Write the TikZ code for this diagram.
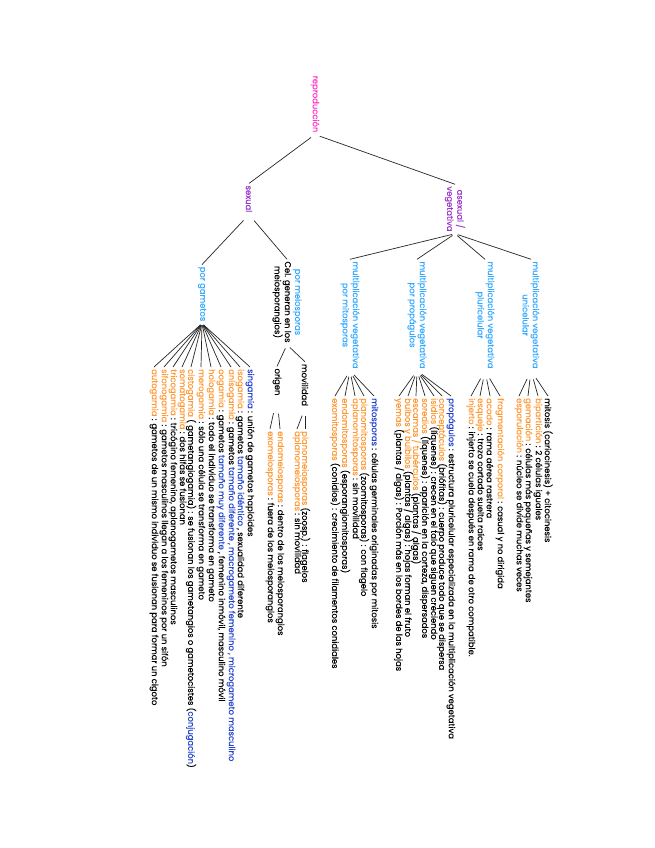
\documentclass[tikz,border=0pt]{standalone}
\usepackage{fontspec}
\setmainfont{Poppins}[FakeBold=0.2]
\definecolor{mag}{HTML}{FF33CC}
\definecolor{purp}{HTML}{9933CC}
\definecolor{lblue}{HTML}{33AAFF}
\definecolor{dblue}{HTML}{2244CC}
\definecolor{orng}{HTML}{FF9933}
\newcommand\ORG[1]{\textcolor{orng}{#1}}
\newcommand\DBL[1]{\textcolor{dblue}{#1}}
\begin{document}
\begin{tikzpicture}[x=1pt,y=-1pt,
  lbl/.style={rotate=-90, inner sep=2pt, align=center, font=\fontsize{8.4}{10.2}\selectfont},
  leaf/.style={rotate=-90, inner sep=2pt, anchor=west, font=\fontsize{8.4}{10.2}\selectfont},
  con/.style={draw=black!85, line width=0.7pt}]
\useasboundingbox (0,0) rectangle (655,848);
\fill[white] (0,0) rectangle (655,848);
% internal nodes
\node[lbl, text=mag] (rep) at (315,104) {reproducción};
\node[lbl, text=purp] (sex) at (249,199) {sexual};
\node[lbl, text=purp] (asex) at (455,209) {asexual /\\vegetativa};
\node[lbl, text=lblue] (gam) at (202,294) {por gametos};
\node[lbl] (mei) at (287,302) {\textcolor{lblue}{por meiosporas}\\Cel. generan en los\\meiosporangios)};
\node[lbl, text=lblue] (mit) at (350,315) {multiplicación vegetativa\\por mitosporas};
\node[lbl, text=lblue] (pro) at (417,315) {multiplicación vegetativa\\por propágulos};
\node[lbl, text=lblue] (plu) at (485,315) {multiplicación vegetativa\\pluricelular};
\node[lbl, text=lblue] (uni) at (531,315) {multiplicación vegetativa\\unicelular};
\node[lbl] (ori) at (277,382) {origen};
\node[lbl] (mov) at (305,385) {movilidad};
% gametos leaves
\node[leaf] (g1) at (250,367) {\DBL{singamia} : unión de gametos haploides};
\node[leaf] (g2) at (240,367) {\ORG{isogamia} : gametos \DBL{tamaño idéntico} , sexualidad diferente};
\node[leaf] (g3) at (231,367) {\ORG{anisogamia} : gametos \DBL{tamaño diferente , macrogameto femenino , microgameto masculino}};
\node[leaf] (g4) at (221,367) {\ORG{oogamia} : gametos \DBL{tamaño muy diferente} , femenino inmóvil, masculino móvil};
\node[leaf] (g5) at (211,367) {\ORG{hologamia} : todo el individuo se transforma en gameto};
\node[leaf] (g6) at (201,367) {\ORG{merogamia} : sólo una célula se transforma en gameto};
\node[leaf] (g7) at (191,367) {\ORG{cistogamia} ( gametangiogamia) : se fusionan los gametangios o gametocistes (\DBL{conjugación})};
\node[leaf] (g8) at (182,367) {\ORG{somatogamia} : dos hifas se fusionan};
\node[leaf] (g9) at (173,367) {\ORG{tricogamia} : tricógino femenino, aplanogametos masculinos};
\node[leaf] (g10) at (164,367) {\ORG{sifonogamia} : gametos masculinos llegan a los femeninos por un sifón};
\node[leaf] (g11) at (154,367) {\ORG{autogamia} : gametos de un mismo individuo se fusionan para formar un cigoto};
% meiosporas leaves
\node[leaf] (m1) at (305,429) {\ORG{planomeiosporas} (zoosp.) : flagelos};
\node[leaf] (m2) at (297,429) {\ORG{aplanomeiosporas} : sin movilidad};
\node[leaf] (m3) at (280,429) {\ORG{endomeiosporas} : dentro de los meiosporangios};
\node[leaf] (m4) at (270,429) {\ORG{exomeiosporas} : fuera de los meiosporangios};
% mitosporas leaves
\node[leaf] (t1) at (374,396) {\DBL{mitosporas} : células germinales originadas por mitosis};
\node[leaf] (t2) at (364,396) {\ORG{planomitosporas} (zoomitosporas) : con flagelo};
\node[leaf] (t3) at (355,396) {\ORG{aplanomitosporas} : sin movilidad};
\node[leaf] (t4) at (345,396) {\ORG{endomitosporas} (esporangiomitosporas)};
\node[leaf] (t5) at (335,396) {\ORG{exomitosporas} (conidios) : crecimiento de filamentos conidiales};
% propagulos leaves
\node[leaf] (p1) at (451,396) {\DBL{propágulos} : estructura pluricelular especializada en la multiplicación vegetativa};
\node[leaf] (p2) at (442,396) {\ORG{conceptáculos} (briófitas) : cuerpo produce todo que se dispersa};
\node[leaf] (p3) at (434,396) {\ORG{isidios} (líquenes) : crecen en el talo que siguen creciendo};
\node[leaf] (p4) at (425,396) {\ORG{soredios} (líquenes) : aparición en la corteza, dispersados};
\node[leaf] (p5) at (416,396) {\ORG{escamas / tubérculos} (plantas / algas)};
\node[leaf] (p6) at (408,396) {\ORG{bulbos y bulbilos} (plantas / algas) : hojas forman el fruto};
\node[leaf] (p7) at (399,396) {\ORG{yemas} (plantas / algas) : Porción más en los bordes de las hojas};
% pluricelular leaves
\node[leaf] (l1) at (500,396) {\ORG{fragmentación corporal} : casual y no dirigida};
\node[leaf] (l2) at (490,396) {\ORG{acodo} : rama aérea rastrera};
\node[leaf] (l3) at (480,396) {\ORG{esqueje} : trozo cortado suelta raíces};
\node[leaf] (l4) at (471,396) {\ORG{injerto} : injerto se cuela después en rama de otro compatible.};
% unicelular leaves
\node[leaf] (u1) at (548,396) {mitosis (cariocinesis) + citocinesis};
\node[leaf] (u2) at (538,396) {\ORG{bipartición} : 2 células iguales};
\node[leaf] (u3) at (528,396) {\ORG{gemación} : células más pequeñas y semejantes};
\node[leaf] (u4) at (519,396) {\ORG{esporulación} : núcleo se divide muchas veces};
% connectors
\draw[con, shorten <=5pt] (rep.east) -- (sex.west);
\draw[con, shorten <=5pt] (rep.east) -- (asex.west);
\draw[con, shorten <=8pt] (sex.east) -- (gam.west);
\draw[con, shorten <=8pt] (sex.east) -- (mei.west);
\foreach \c in {mit,pro,plu,uni} \draw[con, shorten <=3pt] (asex.east) -- (\c.west);
\foreach \c in {g1,g2,g3,g4,g5,g6,g7,g8,g9,g10,g11} \draw[con, shorten <=2pt] (gam.east) -- (\c.west);
\draw[con, shorten <=4pt] (mei.east) -- (ori.west);
\draw[con, shorten <=4pt] (mei.east) -- (mov.west);
\draw[con, shorten <=8pt] (mov.east) -- (m1.west);
\draw[con, shorten <=8pt] (mov.east) -- (m2.west);
\draw[con, shorten <=16pt] (ori.east) -- (m3.west);
\draw[con, shorten <=16pt] (ori.east) -- (m4.west);
\foreach \c in {t1,t2,t3,t4,t5} \draw[con, shorten <=6pt] (mit.east) -- (\c.west);
\foreach \c in {p1,p2,p3,p4,p5,p6,p7} \draw[con, shorten <=6pt] (pro.east) -- (\c.west);
\foreach \c in {l1,l2,l3,l4} \draw[con, shorten <=9pt] (plu.east) -- (\c.west);
\foreach \c in {u1,u2,u3,u4} \draw[con, shorten <=9pt] (uni.east) -- (\c.west);
\end{tikzpicture}
\end{document}
